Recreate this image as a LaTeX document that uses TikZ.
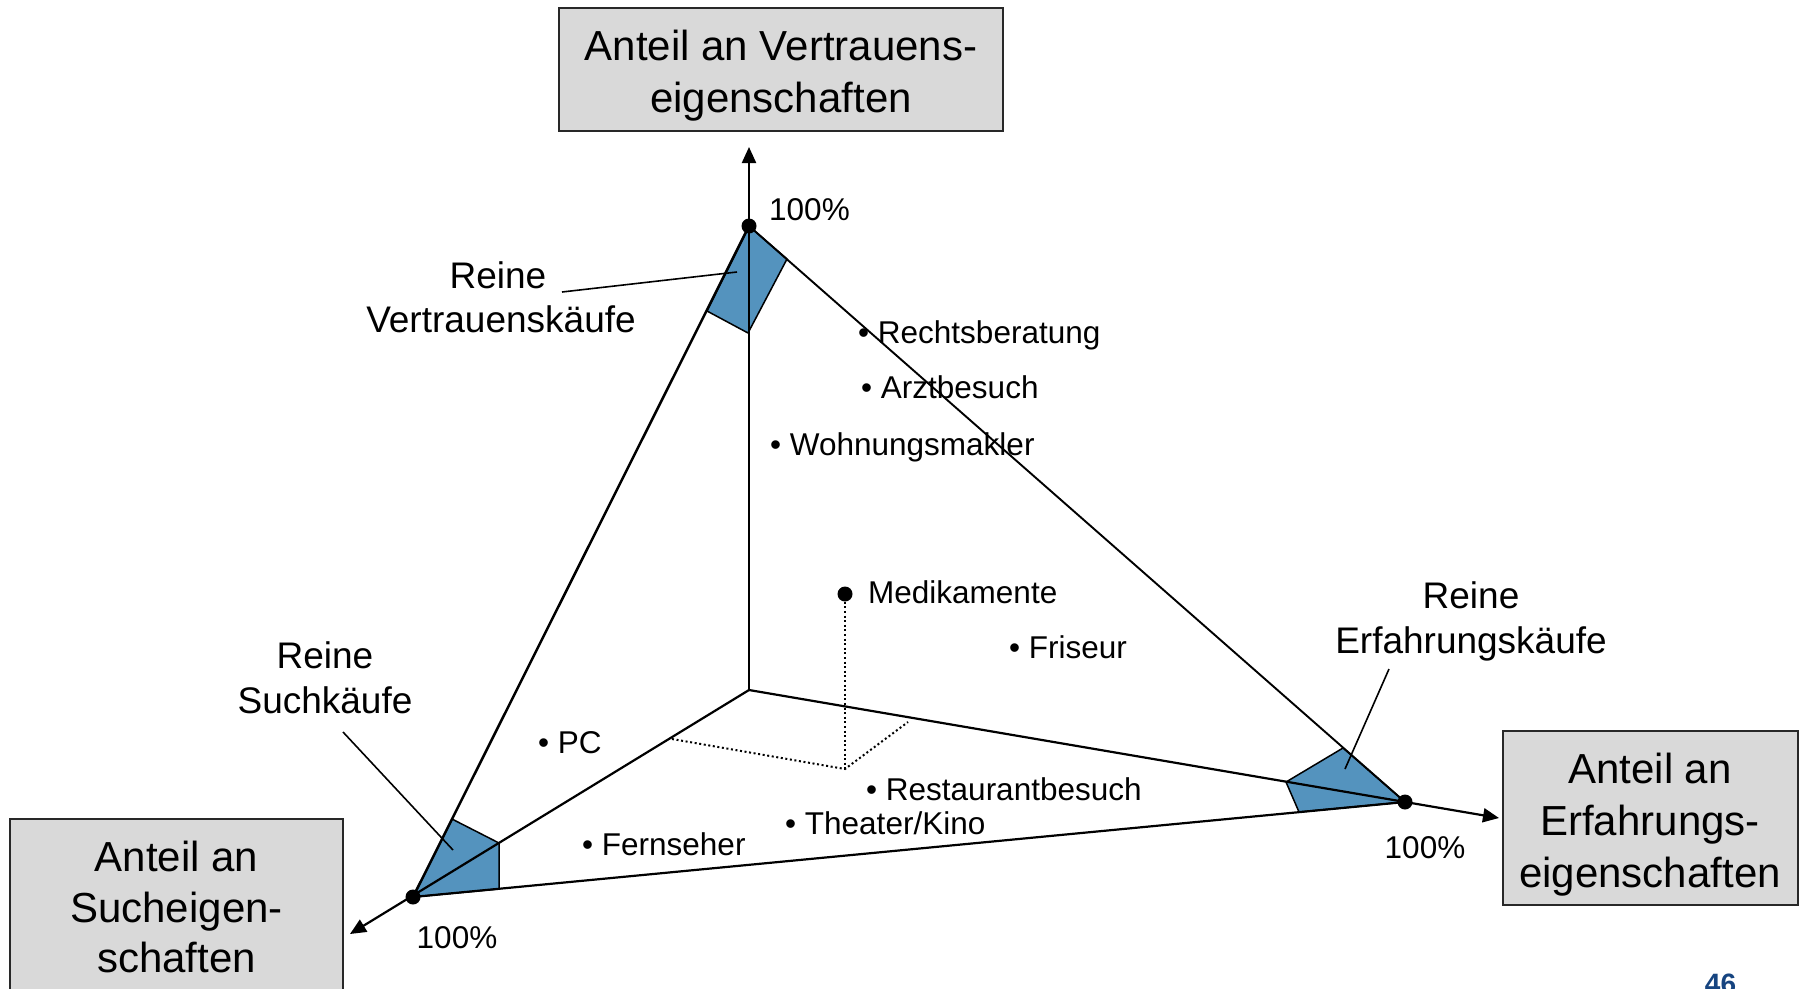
\documentclass[tikz,border=0pt]{standalone}
\usepackage{fontspec}
\setmainfont{Liberation Sans}
\usetikzlibrary{arrows.meta}

\definecolor{purefill}{RGB}{84,147,190}
\definecolor{boxfill}{RGB}{217,217,217}
\definecolor{boxline}{RGB}{40,40,40}
\definecolor{pagenum}{RGB}{22,68,128}

\tikzset{
  axisline/.style={line width=2.2pt, -{Triangle[length=16pt,width=14pt]}},
  edge/.style={line width=1.9pt},
  pointer/.style={line width=1.6pt},
  purezone/.style={fill=purefill, draw=black, line width=1.5pt, line join=round},
  vertexdot/.style={circle, fill=black, inner sep=0pt, minimum size=15pt},
  axisbox/.style={draw=boxline, fill=boxfill, line width=1.6pt, inner sep=0pt},
  boxtext/.style={inner sep=0pt, anchor=base, font=\fontsize{42}{50}\selectfont},
  purelabel/.style={inner sep=0pt, anchor=base, font=\fontsize{37}{44}\selectfont},
  item/.style={inner sep=0pt, anchor=base west, font=\fontsize{31.5}{38}\selectfont},
  pct/.style={inner sep=0pt, anchor=base, font=\fontsize{31.5}{38}\selectfont},
  guide/.style={line width=2pt, dash pattern=on 2pt off 2.6pt}
}

\begin{document}
\begin{tikzpicture}[x=1pt, y=-1pt]
\useasboundingbox (0,0) rectangle (1799,988);

% corner points of the simplex and the origin of the axes
\coordinate (O) at (749,690);
\coordinate (T) at (749,226);
\coordinate (L) at (413,897);
\coordinate (R) at (1405,802);
\coordinate (Tend) at (749,147);
\coordinate (Lend) at (350,934);
\coordinate (Rend) at (1499,818);

% shaded zones of pure purchase types
\draw[purezone] (T) -- (787,259) -- (748,333) -- (707,311) -- cycle;
\draw[purezone] (L) -- (452,819) -- (499,843) -- (499,889) -- cycle;
\draw[purezone] (R) -- (1343,748) -- (1286,782) -- (1299,812) -- cycle;

% axes
\draw[axisline] (O) -- (Tend);
\draw[axisline] (O) -- (Lend);
\draw[axisline] (O) -- (Rend);

% triangle edges
\draw[edge, line width=2.5pt] (T) -- (L);
\draw[edge] (T) -- (R);
\draw[edge, line width=2.2pt] (L) -- (R);

% vertex markers
\node[vertexdot] (Tdot) at (T) {};
\node[vertexdot] (Ldot) at (L) {};
\node[vertexdot] (Rdot) at (R) {};

% axis titles
\node[axisbox, minimum width=444pt, minimum height=123pt] (vbox) at (781,69.5) {};
\node[boxtext] (vline1) at (781,60) {Anteil an Vertrauens-};
\node[boxtext] (vline2) at (781,112) {eigenschaften};

\node[axisbox, minimum width=333pt, minimum height=181pt] (sbox) at (176.5,909.5) {};
\node[boxtext] (sline1) at (176.5,871) {Anteil an};
\node[boxtext] (sline2) at (176.5,922) {Sucheigen-};
\node[boxtext] (sline3) at (176.5,972) {schaften};

\node[axisbox, minimum width=295pt, minimum height=174pt] (ebox) at (1650.5,818) {};
\node[boxtext] (eline1) at (1650,783) {Anteil an};
\node[boxtext] (eline2) at (1650,835) {Erfahrungs-};
\node[boxtext] (eline3) at (1650,887) {eigenschaften};

% 100% marks
\node[pct, anchor=base west] (ptop) at (769,220) {100\%};
\node[pct] (pleft) at (457,948) {100\%};
\node[pct] (pright) at (1425,858) {100\%};

% labels of the pure zones with pointers
\node[purelabel] (rv1) at (498,288) {Reine};
\node[purelabel] (rv2) at (501,332) {Vertrauenskäufe};
\coordinate (rvtip) at (737,272);
\coordinate (rvfoot) at (562,292);
\draw[pointer] (rvfoot) -- (rvtip);

\node[purelabel] (rs1) at (325,668) {Reine};
\node[purelabel] (rs2) at (325,713) {Suchkäufe};
\coordinate (rstip) at (453,850);
\coordinate (rsfoot) at (343,732);
\draw[pointer] (rsfoot) -- (rstip);

\node[purelabel] (re1) at (1471,608) {Reine};
\node[purelabel] (re2) at (1471,653) {Erfahrungskäufe};
\coordinate (retip) at (1345,769);
\coordinate (refoot) at (1389,669);
\draw[pointer] (refoot) -- (retip);

% example goods and services
\node[item] (recht) at (858,343) {• Rechtsberatung};
\node[item] (arzt) at (861,398) {• Arztbesuch};
\node[item] (wohn) at (770,455) {• Wohnungsmakler};
\node[item] (fris) at (1009,658) {• Friseur};
\node[item] (pc) at (538,753) {• PC};
\node[item] (rest) at (866,800) {• Restaurantbesuch};
\node[item] (theat) at (785,834) {• Theater/Kino};
\node[item] (fern) at (582,855) {• Fernseher};

% Medikamente with its projection onto the base plane
\node[vertexdot, minimum size=15pt] (med) at (845,594) {};
\node[item] (medtext) at (868,603) {Medikamente};
\coordinate (medfoot) at (845,769);
\coordinate (medL) at (672,739);
\coordinate (medR) at (908,722);
\draw[guide] (med) -- (medfoot);
\draw[guide] (medL) -- (medfoot) -- (medR);

% page number
\node[inner sep=0pt, anchor=base, text=pagenum, font=\bfseries\fontsize{28}{32}\selectfont] (page) at (1720.5,993) {46};
\end{tikzpicture}
\end{document}
